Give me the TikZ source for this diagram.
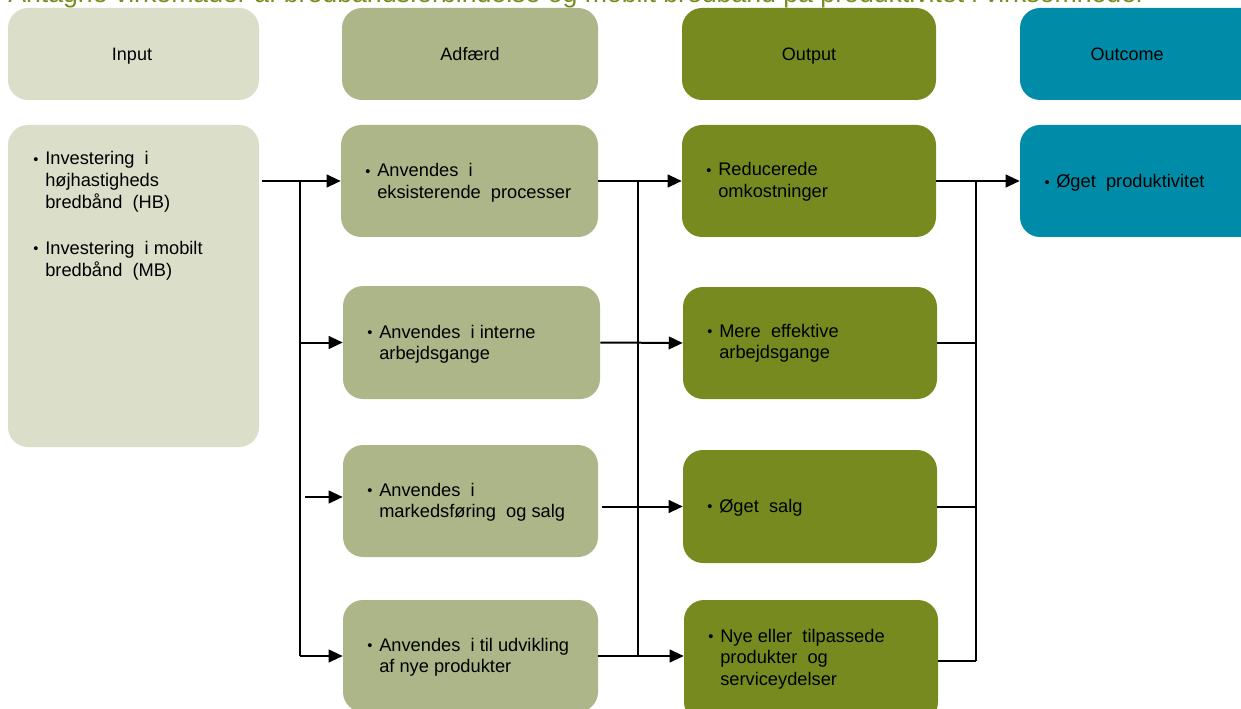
\documentclass[tikz,border=0pt]{standalone}
\usepackage{fontspec}
\setmainfont{Liberation Sans}
\usetikzlibrary{arrows.meta,fit}
\definecolor{cin}{HTML}{DBDEC9}
\definecolor{cad}{HTML}{ADB689}
\definecolor{cout}{HTML}{778A1F}
\definecolor{coc}{HTML}{008CA8}
\definecolor{ctitle}{HTML}{7A8C1E}
\newcommand\lns[1]{\vtop{\baselineskip=16.4pt\lineskiplimit=-10pt\halign{##\hfil\cr#1\crcr}}}
\newcommand\bul{\llap{\raisebox{0.5pt}{\scalebox{0.8}{\textbullet}}\hspace{5pt}}}
\begin{document}
\begin{tikzpicture}[x=0.75pt,y=-0.75pt,
  box/.style={rounded corners=15pt, inner sep=0pt, draw=none},
  hdr/.style={font=\fontsize{13.5}{16}\selectfont, inner sep=0pt, anchor=base},
  txt/.style={font=\fontsize{13.7}{16}\selectfont, inner sep=0pt, anchor=base west},
  conn/.style={line width=1.5pt, black},
  arr/.style={conn, -{Triangle[length=10.5pt,width=9.5pt]}}]
\useasboundingbox (0,0) rectangle (1241,709);
% title (cut off at the top, as in the reference)
\node[anchor=base west, inner sep=0pt, text=ctitle, font=\fontsize{20}{22}\selectfont] (title) at (8,3) {Antagne virkemåder af bredbåndsforbindelse og mobilt bredbånd på produktivitet i virksomheder};
% headers
\node[box, fill=cin,  fit={(8,8)(259,100)}]    (hin)  {};
\node[box, fill=cad,  fit={(342,8)(598,100)}]  (had)  {};
\node[box, fill=cout, fit={(682,8)(936,100)}]  (hout) {};
\node[box, fill=coc,  fit={(1020,8)(1265,100)}] (hoc) {};
\node[hdr] at (132,61) {Input};
\node[hdr] at (470,61) {Adfærd};
\node[hdr] at (809,61) {Output};
\node[hdr] at (1127,61) {Outcome};
% boxes
\node[box, fill=cin,  fit={(8,125)(259,447)}]   (in) {};
\node[box, fill=cad,  fit={(341,125)(598,237)}] (a1) {};
\node[box, fill=cad,  fit={(343,286)(600,399)}] (a2) {};
\node[box, fill=cad,  fit={(343,445)(598,557)}] (a3) {};
\node[box, fill=cad,  fit={(343,600)(598,712)}] (a4) {};
\node[box, fill=cout, fit={(682,125)(936,237)}] (o1) {};
\node[box, fill=cout, fit={(683,287)(937,399)}] (o2) {};
\node[box, fill=cout, fit={(683,450)(937,563)}] (o3) {};
\node[box, fill=cout, fit={(684,600)(938,722)}] (o4) {};
\node[box, fill=coc,  fit={(1020,125)(1265,237)}] (oc) {};
% texts
\node[txt] at (45,165) {\lns{\bul Investering\ \ i\cr højhastigheds\cr bredbånd\ \ (HB)\cr\noalign{\vskip 18pt}\bul Investering\ \ i mobilt\cr bredbånd\ \ (MB)}};
\node[txt] at (377,177) {\lns{\bul Anvendes\ \ i\cr eksisterende\ \ processer}};
\node[txt] at (379,338) {\lns{\bul Anvendes\ \ i interne\cr arbejdsgange}};
\node[txt] at (379,496) {\lns{\bul Anvendes\ \ i\cr markedsføring\ \ og salg}};
\node[txt] at (379,651) {\lns{\bul Anvendes\ \ i til udvikling\cr af nye produkter}};
\node[txt] at (718,176) {\lns{\bul Reducerede\cr omkostninger}};
\node[txt] at (719,337) {\lns{\bul Mere\ \ effektive\cr arbejdsgange}};
\node[txt] at (719,512) {\lns{\bul Øget\ \ salg}};
\node[txt] at (720,642) {\lns{\bul Nye eller\ \ tilpassede\cr produkter\ \ og\cr serviceydelser}};
\node[txt] at (1056,188) {\lns{\bul Øget\ \ produktivitet}};
% connectors input -> behaviour
\coordinate (t1) at (300,181);
\coordinate (b3) at (305,497);
\draw[arr] ([xshift=2.25pt]in.east |- a1.west) -- (a1.west);
\draw[conn] (t1) -- (t1 |- a4.west);
\draw[arr] (t1 |- a2.west) -- (a2.west);
\draw[arr] (b3) -- (b3 -| a3.west);
\draw[arr] (t1 |- a4.west) -- (a4.west);
% behaviour -> output
\coordinate (t2) at (638,181);
\draw[arr] (a1.east) -- (o1.west);
\draw[conn] (t2) -- (t2 |- a4.east);
\draw[arr] (a2.east) -- (o2.west);
\draw[arr] ([xshift=3pt]a3.east |- o3.west) -- (o3.west);
\draw[arr] (a4.east) -- (o4.west |- a4.east);
% output -> outcome
\coordinate (t3) at (976,181);
\draw[arr] (o1.east) -- (oc.west);
\draw[conn] (t3) -- (t3 |- o4.east);
\draw[conn] (o2.east) -- (o2.east -| t3);
\draw[conn] (o3.east) -- (o3.east -| t3);
\draw[conn] (o4.east) -- (o4.east -| t3);
\end{tikzpicture}
\end{document}
